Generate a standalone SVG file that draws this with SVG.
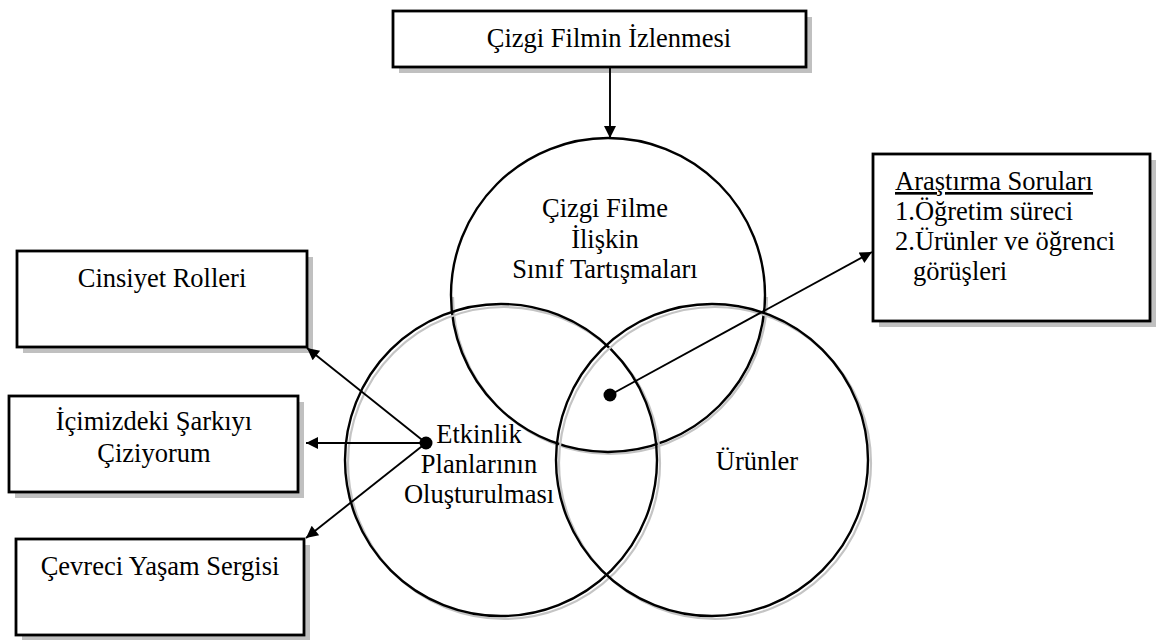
<svg xmlns="http://www.w3.org/2000/svg" width="1164" height="640" viewBox="0 0 1164 640" font-family="'Liberation Serif', 'Times New Roman', 'DejaVu Serif', serif">
<defs>
<marker id="arr" viewBox="0 0 10 10" refX="10" refY="5" markerUnits="userSpaceOnUse" markerWidth="17" markerHeight="12" orient="auto">
<path d="M0,0 L10,5 L0,10 z" fill="#000"/>
</marker>
</defs>
<style>
text{font-family:"Liberation Serif","Times New Roman","DejaVu Serif",serif;font-size:26.5px;fill:#000}
.c{text-anchor:middle}
.box{fill:#fff;stroke:#000;stroke-width:2.8}
.shadow{fill:#c0c0c0;stroke:none}
.circ{fill:none;stroke:#000;stroke-width:2.4}
.cshadow{fill:none;stroke:#c4c4c4;stroke-width:2.2}
.conn{fill:none;stroke:#000;stroke-width:1.9}
</style>
<rect width="1164" height="640" fill="#fff"/>

<g id="circles">
<g id="circle-top">
<path class="cshadow" d="M767,297 A157,157 0 0 1 453,297"/>
<circle class="circ" cx="608" cy="295" r="157"/>
<text class="c" x="605" y="217">Çizgi Filme</text>
<text class="c" x="605" y="248">İlişkin</text>
<text class="c" x="605" y="278">Sınıf Tartışmaları</text>
</g>
<g id="circle-left">
<circle class="cshadow" cx="504" cy="463" r="156"/>
<circle class="circ" cx="501" cy="460" r="156"/>
<text class="c" x="479" y="443">Etkinlik</text>
<text class="c" x="479" y="473">Planlarının</text>
<text class="c" x="479" y="503">Oluşturulması</text>
</g>
<g id="circle-right">
<circle class="cshadow" cx="715" cy="463" r="156"/>
<circle class="circ" cx="712" cy="460" r="156"/>
<text class="c" x="757" y="470">Ürünler</text>
</g>
</g>

<g id="node-top">
<rect class="shadow" x="399" y="17" width="413" height="56"/>
<rect class="box" x="393" y="11" width="413" height="56"/>
<text class="c" x="609" y="47">Çizgi Filmin İzlenmesi</text>
</g>

<g id="node-cinsiyet">
<rect class="shadow" x="23" y="257" width="290" height="96"/>
<rect class="box" x="17" y="251" width="290" height="96"/>
<text class="c" x="162" y="287">Cinsiyet Rolleri</text>
</g>

<g id="node-icimizdeki">
<rect class="shadow" x="15" y="402" width="289" height="96"/>
<rect class="box" x="9" y="396" width="289" height="96"/>
<text class="c" x="154" y="430">İçimizdeki Şarkıyı</text>
<text class="c" x="154" y="462">Çiziyorum</text>
</g>

<g id="node-cevreci">
<rect class="shadow" x="22" y="545" width="288" height="96"/>
<rect class="box" x="16" y="539" width="288" height="96"/>
<text class="c" x="160" y="575">Çevreci Yaşam Sergisi</text>
</g>

<g id="node-arastirma">
<rect class="shadow" x="879" y="160" width="277" height="167"/>
<rect class="box" x="873" y="154" width="277" height="167"/>
<text x="895" y="190" text-decoration="underline">Araştırma Soruları</text>
<text x="895" y="220">1.Öğretim süreci</text>
<text x="895" y="250">2.Ürünler ve öğrenci</text>
<text x="913" y="280">görüşleri</text>
</g>

<g id="connectors">
<line class="conn" x1="610" y1="67" x2="610" y2="138" marker-end="url(#arr)"/>
<line class="conn" x1="426" y1="443" x2="307" y2="348" marker-end="url(#arr)"/>
<line class="conn" x1="426" y1="443" x2="306" y2="443" marker-end="url(#arr)"/>
<line class="conn" x1="426" y1="443" x2="306" y2="538" marker-end="url(#arr)"/>
<line class="conn" x1="610" y1="395" x2="872" y2="252" marker-end="url(#arr)"/>
<circle cx="426" cy="443" r="6.5" fill="#000"/>
<circle cx="610" cy="395" r="6.5" fill="#000"/>
</g>
</svg>
